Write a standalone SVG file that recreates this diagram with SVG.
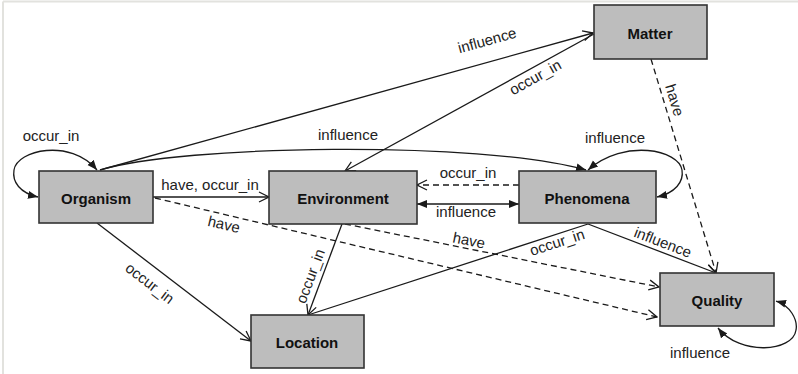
<svg xmlns="http://www.w3.org/2000/svg" width="798" height="374" viewBox="0 0 798 374">
<style>
.box{fill:#bdbdbd;stroke:#333;stroke-width:1.6}
.nl{font-family:"Liberation Sans",Arial,sans-serif;font-size:15px;font-weight:bold;fill:#111;text-anchor:middle;dominant-baseline:central}
.el{font-family:"Liberation Sans",Arial,sans-serif;font-size:15px;fill:#222;text-anchor:middle;dominant-baseline:central}
.ln{fill:none;stroke:#1a1a1a;stroke-width:1.3}
.dash{stroke-dasharray:6 4}
</style>
<defs>
<marker id="open" markerUnits="userSpaceOnUse" markerWidth="12" markerHeight="12" viewBox="0 0 12 12" refX="11" refY="6" orient="auto">
<path d="M1,1 L11,6 L1,11" fill="none" stroke="#1a1a1a" stroke-width="1.3" stroke-dasharray="none"/>
</marker>
<marker id="fill" markerUnits="userSpaceOnUse" markerWidth="10" markerHeight="10" viewBox="0 0 10 10" refX="10" refY="5" orient="auto-start-reverse">
<path d="M0,1 L10,5 L0,9 z" fill="#1a1a1a"/>
</marker>
</defs>
<rect x="0" y="0" width="798" height="374" fill="#fff"/>
<line x1="3" y1="1.5" x2="798" y2="1.5" stroke="#e2e2de" stroke-width="2"/>
<line x1="3" y1="1.5" x2="3" y2="374" stroke="#e2e2de" stroke-width="2"/>
<g id="connectors">
<path class="ln" d="M100,170 L593,33" marker-end="url(#open)"/>
<path class="ln" d="M100,170 C180,145 480,140 586,170" marker-end="url(#fill)"/>
<path class="ln" d="M594,34 L345,171" marker-end="url(#open)"/>
<path class="ln" d="M38,197 C20,193 12,182 14,170 C17,150 70,138 97,170" marker-start="url(#fill)" marker-end="url(#fill)"/>
<path class="ln" d="M657,197 C675,193 684,182 682,170 C679,150 625,138 588,170" marker-start="url(#fill)" marker-end="url(#fill)"/>
<path class="ln" d="M776,301 C790,305 798,320 796,330 C793,352 740,356 718,328" marker-start="url(#fill)" marker-end="url(#fill)"/>
<path class="ln" d="M153,197 L269,197" marker-end="url(#open)"/>
<path class="ln dash" d="M519,185 L417,185" marker-end="url(#open)"/>
<path class="ln" d="M417,204 L519,204" marker-start="url(#fill)" marker-end="url(#fill)"/>
<path class="ln dash" d="M155,198 L657,317" marker-end="url(#open)"/>
<path class="ln dash" d="M345,224 L659,287" marker-end="url(#open)"/>
<path class="ln" d="M342,224 L308,315" marker-end="url(#open)"/>
<path class="ln" d="M588,224 L308,315"/>
<path class="ln" d="M97,223 L251,341" marker-end="url(#open)"/>
<path class="ln" d="M588,224 L716,273" marker-end="url(#open)"/>
<path class="ln dash" d="M651,59 L716,273" marker-end="url(#open)"/>
<text class="el" transform="translate(487,40) rotate(-15.4)">influence</text>
<text class="el" transform="translate(535,77) rotate(-29)">occur_in</text>
<text class="el" x="348" y="134">influence</text>
<text class="el" x="51" y="135">occur_in</text>
<text class="el" x="615" y="137">influence</text>
<text class="el" x="210" y="184">have, occur_in</text>
<text class="el" x="468" y="172">occur_in</text>
<text class="el" x="466" y="211">influence</text>
<text class="el" transform="translate(224,224) rotate(13)">have</text>
<text class="el" transform="translate(469,240) rotate(11.3)">have</text>
<text class="el" transform="translate(310,276) rotate(-69.5)">occur_in</text>
<text class="el" transform="translate(150,283) rotate(37.5)">occur_in</text>
<text class="el" transform="translate(557,242) rotate(-18)">occur_in</text>
<text class="el" transform="translate(663,242) rotate(21)">influence</text>
<text class="el" transform="translate(675,100) rotate(73)">have</text>
<text class="el" x="700" y="352">influence</text>
</g>
<g id="matter"><rect class="box" x="594" y="5" width="113" height="54"/><text class="nl" x="650" y="33">Matter</text></g>
<g id="organism"><rect class="box" x="39" y="171" width="114" height="52"/><text class="nl" x="96" y="198">Organism</text></g>
<g id="environment"><rect class="box" x="269" y="171" width="148" height="53"/><text class="nl" x="343" y="198">Environment</text></g>
<g id="phenomena"><rect class="box" x="519" y="171" width="137" height="52"/><text class="nl" x="587" y="198">Phenomena</text></g>
<g id="quality"><rect class="box" x="660" y="273" width="114" height="53"/><text class="nl" x="717" y="300">Quality</text></g>
<g id="location"><rect class="box" x="251" y="315" width="113" height="53"/><text class="nl" x="307" y="342">Location</text></g>
</svg>
